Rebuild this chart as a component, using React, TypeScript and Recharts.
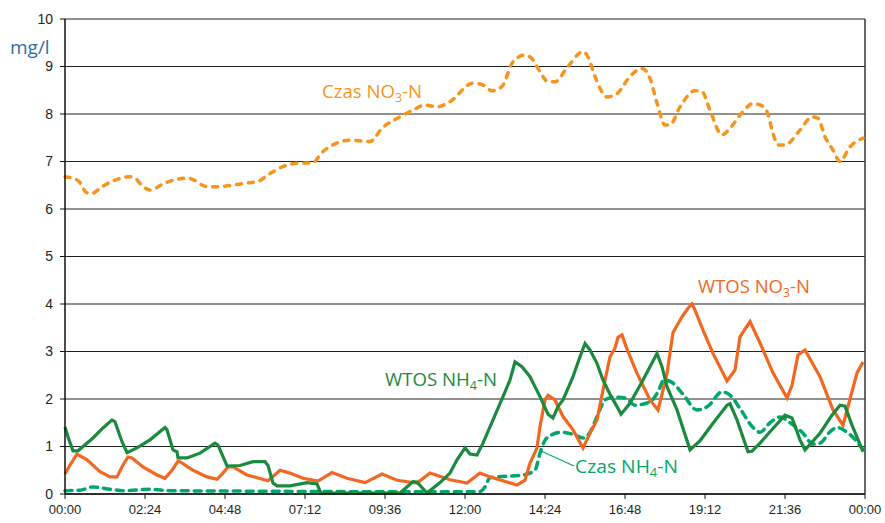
import React from "react";
import { LineChart, Line, XAxis, YAxis, CartesianGrid, ReferenceLine } from "recharts";

// time in hours since 00:00
const czasNO3Times = [0, 0.39, 0.66, 0.81, 1.11, 1.59, 1.95, 2.1, 2.34, 2.55, 3.0, 3.69, 3.9, 4.2, 4.5, 5.49, 5.79, 6.09, 6.69, 7.11, 7.41, 7.74, 8.04, 8.55, 9.15, 9.51, 10.05, 10.44, 10.8, 11.16, 11.55, 12.24, 12.54, 12.81, 13.11, 13.44, 13.8, 14.04, 14.25, 14.49, 14.7, 15.06, 15.54, 15.69, 15.9, 16.26, 16.56, 16.95, 17.31, 17.55, 17.76, 18.0, 18.15, 18.45, 18.9, 19.11, 19.35, 19.71, 19.95, 20.34, 20.64, 20.85, 21.06, 21.24, 21.39, 21.6, 22.05, 22.41, 22.59, 22.8, 23.04, 23.25, 23.55, 23.94];
const czasNO3Values = [6.68, 6.6, 6.34, 6.33, 6.47, 6.63, 6.68, 6.65, 6.47, 6.4, 6.55, 6.65, 6.6, 6.48, 6.47, 6.55, 6.58, 6.72, 6.93, 6.97, 6.97, 7.21, 7.35, 7.45, 7.42, 7.7, 7.94, 8.08, 8.19, 8.15, 8.26, 8.65, 8.61, 8.49, 8.58, 9.1, 9.24, 9.14, 8.89, 8.68, 8.68, 8.97, 9.31, 9.2, 8.79, 8.36, 8.43, 8.79, 8.96, 8.75, 8.23, 7.77, 7.77, 8.15, 8.49, 8.47, 8.08, 7.56, 7.7, 8.05, 8.22, 8.19, 8.05, 7.59, 7.35, 7.35, 7.66, 7.94, 7.91, 7.52, 7.24, 7.0, 7.31, 7.49];

const wtosNO3Times = [0, 0.15, 0.36, 0.66, 1.05, 1.35, 1.56, 1.74, 1.89, 2.01, 2.34, 2.76, 3.0, 3.21, 3.39, 3.45, 3.84, 4.26, 4.56, 4.74, 4.89, 5.04, 5.46, 6.09, 6.45, 6.75, 7.14, 7.59, 8.01, 8.46, 9.0, 9.51, 9.96, 10.56, 10.95, 11.55, 12.06, 12.45, 12.75, 13.56, 13.8, 13.95, 14.16, 14.25, 14.4, 14.49, 14.7, 14.94, 15.24, 15.54, 15.75, 15.96, 16.14, 16.35, 16.5, 16.59, 16.71, 16.86, 17.16, 17.55, 17.79, 17.91, 18.06, 18.24, 18.51, 18.69, 18.81, 18.9, 19.14, 19.44, 19.86, 20.1, 20.25, 20.55, 20.85, 21.24, 21.66, 21.81, 21.99, 22.2, 22.65, 23.04, 23.34, 23.55, 23.76, 23.94];
const wtosNO3Values = [0.42, 0.61, 0.84, 0.72, 0.47, 0.36, 0.36, 0.61, 0.78, 0.76, 0.57, 0.4, 0.33, 0.5, 0.69, 0.68, 0.5, 0.36, 0.31, 0.44, 0.57, 0.57, 0.4, 0.28, 0.5, 0.44, 0.33, 0.27, 0.45, 0.33, 0.24, 0.42, 0.29, 0.23, 0.44, 0.3, 0.23, 0.44, 0.36, 0.19, 0.29, 0.65, 0.97, 1.42, 1.98, 2.08, 1.98, 1.63, 1.35, 0.97, 1.28, 1.56, 2.19, 2.89, 3.07, 3.3, 3.35, 3.05, 2.54, 1.98, 1.77, 2.1, 2.54, 3.4, 3.73, 3.91, 4.0, 3.87, 3.45, 2.96, 2.38, 2.61, 3.31, 3.63, 3.18, 2.55, 2.02, 2.29, 2.93, 3.03, 2.47, 1.77, 1.45, 2.0, 2.55, 2.78];

const wtosNH4Times = [0, 0.09, 0.24, 0.39, 0.84, 1.14, 1.41, 1.5, 1.71, 1.86, 2.16, 2.55, 3.0, 3.06, 3.24, 3.36, 3.39, 3.66, 4.05, 4.5, 4.59, 4.86, 5.25, 5.64, 6.0, 6.09, 6.24, 6.36, 6.75, 7.26, 7.56, 7.68, 10.05, 10.44, 10.56, 10.86, 11.25, 11.55, 11.76, 12.0, 12.15, 12.36, 12.54, 12.84, 13.14, 13.35, 13.5, 13.71, 13.95, 14.25, 14.49, 14.64, 14.79, 14.94, 15.24, 15.45, 15.6, 15.75, 15.96, 16.14, 16.35, 16.56, 16.68, 16.95, 17.34, 17.55, 17.76, 17.91, 18.06, 18.36, 18.75, 19.05, 19.44, 19.86, 19.95, 20.16, 20.49, 20.61, 20.85, 21.15, 21.6, 21.81, 22.05, 22.2, 22.65, 23.01, 23.25, 23.4, 23.61, 23.94];
const wtosNH4Values = [1.41, 1.2, 0.91, 0.91, 1.18, 1.39, 1.56, 1.52, 1.1, 0.87, 0.97, 1.14, 1.4, 1.35, 0.93, 0.89, 0.76, 0.76, 0.86, 1.07, 1.03, 0.59, 0.6, 0.68, 0.68, 0.6, 0.23, 0.17, 0.17, 0.24, 0.21, 0.02, 0.02, 0.26, 0.25, 0.02, 0.24, 0.44, 0.72, 0.97, 0.84, 0.82, 1.07, 1.56, 2.05, 2.4, 2.78, 2.68, 2.47, 2.05, 1.68, 1.6, 1.84, 1.98, 2.47, 2.89, 3.17, 3.03, 2.75, 2.4, 2.1, 1.84, 1.68, 1.91, 2.4, 2.68, 2.96, 2.68, 2.26, 1.77, 0.93, 1.12, 1.49, 1.87, 1.9, 1.56, 0.89, 0.9, 1.07, 1.31, 1.66, 1.6, 1.14, 0.93, 1.28, 1.66, 1.87, 1.85, 1.45, 0.89];

const czasNH4Times = [0, 0.45, 0.84, 1.35, 1.8, 2.55, 3.15, 5.55, 8.55, 10.65, 12.45, 12.6, 12.75, 12.99, 13.74, 14.1, 14.25, 14.4, 14.61, 14.91, 15.3, 15.54, 15.75, 15.96, 16.2, 16.44, 16.8, 17.1, 17.55, 17.79, 17.97, 18.21, 18.54, 18.96, 19.29, 19.71, 19.95, 20.25, 20.64, 20.85, 21.15, 21.45, 21.75, 22.14, 22.44, 22.65, 22.95, 23.16, 23.46, 23.76, 23.94];
const czasNH4Values = [0.07, 0.08, 0.15, 0.1, 0.07, 0.1, 0.07, 0.06, 0.05, 0.05, 0.05, 0.15, 0.34, 0.36, 0.4, 0.5, 0.86, 1.13, 1.25, 1.3, 1.24, 1.18, 1.3, 1.63, 1.98, 2.04, 2.02, 1.87, 1.94, 2.15, 2.4, 2.35, 2.1, 1.77, 1.85, 2.15, 2.08, 1.8, 1.4, 1.3, 1.5, 1.62, 1.5, 1.28, 1.05, 1.07, 1.31, 1.4, 1.3, 1.1, 0.93];

const xTicks = [0, 2.4, 4.8, 7.2, 9.6, 12, 14.4, 16.8, 19.2, 21.6, 24];
const yTicks = [0, 1, 2, 3, 4, 5, 6, 7, 8, 9, 10];

const build = (ts: number[], vs: number[]) => ts.map((t, i) => ({ t, v: vs[i] }));
const czasNO3 = build(czasNO3Times, czasNO3Values);
const wtosNO3 = build(wtosNO3Times, wtosNO3Values);
const wtosNH4 = build(wtosNH4Times, wtosNH4Values);
const czasNH4 = build(czasNH4Times, czasNH4Values);

const fmtTime = (h: number) => {
  const mins = Math.round(h * 60) % 1440;
  const hh = Math.floor(mins / 60);
  const mm = mins % 60;
  return `${String(hh).padStart(2, "0")}:${String(mm).padStart(2, "0")}`;
};

const C_CZAS_NO3 = "#F7941D";
const C_WTOS_NO3 = "#F26722";
const C_WTOS_NH4 = "#1B8A3E";
const C_CZAS_NH4 = "#00A76A";

const labelFont = "'Liberation Sans Narrow', 'Open Sans', sans-serif";

function Lbl({ x, y, main, sub, tail, color, len }: any) {
  return (
    <text x={x} y={y} fill={color} fontSize={18} fontFamily={labelFont} textLength={len} lengthAdjust="spacingAndGlyphs">
      <tspan>{main}</tspan>
      <tspan fontSize={12} dy={4}>{sub}</tspan>
      <tspan dy={-4}>{tail}</tspan>
    </text>
  );
}

export default function App() {
  return (
    <div style={{ position: "absolute", left: 0, top: 0, width: 885, height: 523, background: "#fff" }}>
      <LineChart width={885} height={523} margin={{ top: 19, right: 20, bottom: 0, left: 0 }}>
        <CartesianGrid horizontal vertical={false} stroke="#222" strokeWidth={1} />
        <XAxis
          dataKey="t"
          type="number"
          domain={[0, 24]}
          ticks={xTicks}
          tickFormatter={fmtTime}
          height={29}
          tickSize={5}
          tickMargin={6}
          stroke="#111"
          axisLine={{ stroke: "#111", strokeWidth: 1.5 }}
          tick={{ fill: "#231F20", fontSize: 13, fontFamily: "'Liberation Sans', Arial, sans-serif" }}
          allowDuplicatedCategory={false}
        />
        <YAxis
          type="number"
          domain={[0, 10]}
          ticks={yTicks}
          width={65}
          tickSize={5}
          tickMargin={7}
          stroke="#111"
          axisLine={{ stroke: "#111", strokeWidth: 1.5 }}
          tick={{ fill: "#231F20", fontSize: 14, fontFamily: "'Liberation Sans', Arial, sans-serif" }}
        />
        <ReferenceLine x={24} stroke="#333" strokeWidth={1.5} />
        <Line data={czasNO3} dataKey="v" type="monotone" stroke={C_CZAS_NO3} strokeWidth={3.5} strokeDasharray="5 7" strokeLinecap="round" dot={false} isAnimationActive={false} />
        <Line data={czasNH4} dataKey="v" type="monotone" stroke={C_CZAS_NH4} strokeWidth={3.5} strokeDasharray="7 6" strokeLinecap="round" dot={false} isAnimationActive={false} />
        <Line data={wtosNO3} dataKey="v" type="linear" stroke={C_WTOS_NO3} strokeWidth={3.2} dot={false} isAnimationActive={false} />
        <Line data={wtosNH4} dataKey="v" type="linear" stroke={C_WTOS_NH4} strokeWidth={3.2} dot={false} isAnimationActive={false} />
      </LineChart>
      <svg width={885} height={523} style={{ position: "absolute", left: 0, top: 0, pointerEvents: "none" }}>
        <text x={10} y={54} fill="#2B6FA8" fontSize={19} fontFamily="'Open Sans', sans-serif">mg/l</text>
        <Lbl x={322} y={98} main="Czas NO" sub="3" tail="-N" color={C_CZAS_NO3} len={100} />
        <Lbl x={698} y={293} main="WTOS NO" sub="3" tail="-N" color={C_WTOS_NO3} len={112} />
        <Lbl x={385} y={386} main="WTOS NH" sub="4" tail="-N" color={C_WTOS_NH4} len={112} />
        <Lbl x={575} y={473} main="Czas NH" sub="4" tail="-N" color={C_CZAS_NH4} len={103} />
        <line x1={541} y1={451} x2={574} y2={466} stroke={C_CZAS_NH4} strokeWidth={1.2} />
      </svg>
    </div>
  );
}
